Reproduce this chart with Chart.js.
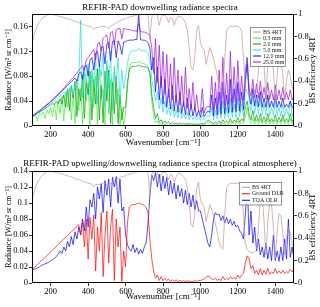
<!DOCTYPE html>
<html>
<head>
<meta charset="utf-8">
<script src="https://cdn.jsdelivr.net/npm/chart.js@4.4.0/dist/chart.umd.min.js"></script>
<style>
    body { margin: 0; background: #fff; }
    canvas { display: block; }
</style>
</head>
<body>
<canvas id="chart-downwelling" width="320" height="150"></canvas>
<canvas id="chart-tropical" width="320" height="157"></canvas>
<script>
// wavenumber grid [cm-1]
const wavenumber = [
    100, 110, 120, 130, 140, 150, 160, 170, 180, 190,
    200, 210, 220, 230, 240, 250, 260, 270, 280, 290,
    300, 310, 320, 330, 340, 350, 360, 370, 380, 390,
    400, 410, 420, 430, 440, 450, 460, 470, 480, 490,
    500, 510, 520, 530, 540, 550, 560, 570, 580, 590,
    600, 610, 620, 630, 640, 650, 660, 670, 680, 690,
    700, 710, 720, 730, 740, 750, 760, 770, 780, 790,
    800, 810, 820, 830, 840, 850, 860, 870, 880, 890,
    900, 910, 920, 930, 940, 950, 960, 970, 980, 990,
    1000, 1010, 1020, 1030, 1040, 1050, 1060, 1070, 1080, 1090,
    1100, 1110, 1120, 1130, 1140, 1150, 1160, 1170, 1180, 1190,
    1200, 1210, 1220, 1230, 1240, 1250, 1260, 1270, 1280, 1290,
    1300, 1310, 1320, 1330, 1340, 1350, 1360, 1370, 1380, 1390,
    1400, 1410, 1420, 1430, 1440, 1450, 1460, 1470, 1480, 1490,
    1500,
];

// BS efficiency 4RT (right axis, same curve in both panels)
const bsEfficiency = [
    .74, .81, .86, .90, .93, .95, .97, .98, .99, 1.0,
    1.0, 1.0, .99, .99, .98, .98, .97, .97, .96, .96,
    .95, .95, .94, .93, .93, .92, .92, .91, .90, .90,
    .89, .89, .88, .86, .88, .88, .88, .89, .89, .89,
    .88, .87, .89, .90, .91, .92, .93, .94, .95, .95,
    .96, .97, .97, .98, .98, .99, .99, 1.0, 1.0, 1.0,
    1.0, 1.0, .98, .78, .97, 1.0, 1.0, .99, .90, .97,
    .99, .99, .97, .92, .97, .96, .90, .95, .98, .98,
    .97, .95, .92, .85, .70, .52, .50, .62, .85, .90,
    .74, .70, .68, .55, .62, .70, .66, .60, .53, .45,
    .36, .32, .30, .60, .85, .88, .89, .89, .89, .89,
    .89, .88, .85, .60, .35, .30, .28, .27, .27, .28,
    .30, .50, .75, .78, .55, .25, .55, .72, .70, .50,
    .22, .45, .62, .60, .45, .25, .40, .50, .45, .35,
    .30,
];

// panel (a): downwelling radiance for different PWV
const pwv03 = [
    .016, .015, .017, .008, .020, .018, .022, .012, .026, .020,
    .030, .015, .035, .010, .042, .020, .048, .008, .055, .030,
    .062, .010, .050, .004, .075, .025, .060, .003, .085, .040,
    .070, .002, .092, .030, .080, .002, .097, .045, .060, .001,
    .099, .020, .075, .001, .096, .035, .060, .001, .030, .002,
    .020, .060, .095, .101, .102, .102, .102, .104, .102, .101,
    .100, .099, .096, .085, .040, .015, .005, .008, .002, .005,
    .001, .003, .001, .002, .001, .002, .001, .002, .001, .002,
    .001, .001, .001, .002, .001, .001, .001, .001, .001, .001,
    .001, .002, .002, .004, .006, .005, .003, .002, .003, .002,
    .004, .002, .005, .002, .004, .002, .006, .003, .005, .003,
    .008, .003, .006, .004, .015, .030, .010, .004, .012, .003,
    .010, .003, .012, .003, .008, .003, .012, .003, .008, .003,
    .010, .003, .008, .003, .012, .003, .008, .003, .012, .003,
    .006,
];
const pwv20 = [
    .016, .017, .019, .020, .022, .024, .026, .028, .030, .032,
    .034, .036, .035, .040, .036, .044, .035, .050, .030, .060,
    .025, .065, .045, .072, .015, .060, .040, .082, .012, .070,
    .050, .088, .010, .075, .035, .092, .010, .065, .005, .088,
    .040, .090, .004, .070, .020, .080, .004, .050, .010, .030,
    .030, .070, .090, .095, .096, .096, .096, .098, .096, .096,
    .095, .095, .093, .085, .050, .030, .012, .020, .006, .010,
    .004, .008, .004, .007, .003, .006, .003, .005, .003, .005,
    .003, .004, .003, .004, .003, .004, .003, .003, .003, .003,
    .003, .004, .004, .007, .009, .008, .006, .004, .006, .004,
    .008, .004, .010, .005, .008, .005, .012, .005, .010, .006,
    .014, .006, .012, .008, .030, .040, .020, .010, .025, .008,
    .018, .008, .020, .007, .015, .007, .020, .007, .012, .007,
    .018, .007, .014, .007, .018, .007, .012, .007, .020, .007,
    .012,
];
const pwv50 = [
    .016, .018, .019, .021, .023, .025, .027, .029, .031, .034,
    .036, .038, .041, .043, .046, .048, .051, .054, .050, .059,
    .055, .064, .050, .070, .060, .075, .170, .045, .095, .070,
    .100, .040, .085, .065, .110, .035, .095, .080, .118, .030,
    .105, .060, .120, .025, .090, .070, .110, .040, .090, .060,
    .080, .100, .115, .120, .121, .121, .121, .125, .121, .121,
    .121, .120, .117, .105, .075, .060, .040, .055, .028, .045,
    .022, .040, .019, .030, .016, .035, .014, .025, .013, .028,
    .012, .020, .011, .022, .010, .018, .010, .015, .009, .014,
    .009, .018, .010, .014, .017, .015, .030, .010, .025, .011,
    .030, .012, .040, .012, .030, .013, .045, .013, .035, .014,
    .045, .015, .035, .016, .060, .110, .045, .025, .050, .020,
    .040, .019, .045, .018, .035, .018, .045, .017, .030, .017,
    .040, .017, .030, .016, .035, .016, .028, .016, .040, .016,
    .025,
];
const pwv120 = [
    .016, .018, .020, .022, .024, .026, .029, .031, .034, .036,
    .039, .041, .044, .047, .050, .053, .056, .059, .062, .065,
    .068, .071, .074, .077, .072, .084, .087, .075, .094, .098,
    .080, .106, .110, .090, .117, .120, .095, .126, .128, .100,
    .132, .134, .105, .136, .137, .110, .137, .130, .115, .135,
    .136, .137, .138, .138, .138, .139, .139, .180, .139, .138,
    .138, .137, .134, .125, .090, .110, .055, .095, .042, .080,
    .035, .075, .030, .060, .027, .065, .024, .050, .022, .055,
    .020, .040, .018, .045, .017, .035, .016, .030, .015, .025,
    .014, .030, .015, .020, .024, .022, .050, .016, .045, .018,
    .055, .019, .070, .020, .050, .021, .075, .022, .060, .023,
    .070, .024, .055, .026, .075, .100, .050, .035, .060, .032,
    .050, .031, .055, .030, .045, .030, .050, .030, .040, .030,
    .050, .030, .040, .030, .045, .030, .035, .030, .040, .030,
    .032,
];
const pwv250 = [
    .016, .018, .020, .023, .025, .027, .030, .032, .035, .037,
    .040, .043, .046, .049, .052, .055, .058, .061, .064, .068,
    .071, .075, .078, .082, .085, .089, .093, .097, .090, .106,
    .110, .114, .119, .123, .106, .131, .135, .120, .141, .144,
    .146, .125, .150, .152, .130, .155, .156, .157, .140, .157,
    .156, .155, .155, .154, .153, .153, .152, .165, .152, .151,
    .151, .150, .148, .145, .125, .085, .140, .070, .130, .062,
    .120, .052, .115, .046, .100, .042, .110, .038, .090, .034,
    .080, .031, .095, .029, .060, .027, .070, .025, .050, .023,
    .022, .060, .021, .030, .032, .030, .080, .025, .070, .028,
    .090, .030, .110, .033, .085, .035, .120, .036, .095, .038,
    .105, .040, .080, .042, .090, .110, .060, .048, .075, .046,
    .068, .045, .072, .044, .062, .043, .070, .043, .058, .042,
    .066, .042, .058, .042, .062, .042, .054, .042, .058, .042,
    .048,
];

// panel (b): tropical atmosphere
const groundDLR = [
    .017, .019, .021, .023, .026, .028, .030, .032, .034, .037,
    .039, .041, .043, .046, .048, .050, .053, .055, .057, .059,
    .062, .064, .066, .068, .071, .073, .060, .077, .045, .080,
    .030, .082, .055, .085, .015, .070, .040, .088, .008, .060,
    .090, .025, .070, .092, .003, .080, .045, .070, .002, .040,
    .020, .075, .095, .097, .098, .098, .099, .100, .099, .098,
    .097, .094, .088, .055, .030, .015, .006, .010, .003, .008,
    .003, .006, .003, .005, .002, .004, .002, .004, .002, .003,
    .002, .003, .002, .003, .002, .002, .002, .003, .002, .003,
    .003, .004, .005, .007, .009, .008, .005, .004, .006, .003,
    .005, .003, .008, .004, .006, .004, .008, .005, .007, .005,
    .010, .006, .010, .012, .025, .034, .030, .018, .022, .012,
    .016, .010, .018, .010, .016, .011, .018, .011, .014, .012,
    .018, .012, .015, .012, .016, .012, .014, .013, .017, .014,
    .018,
];
const toaOLR = [
    .016, .017, .018, .019, .020, .022, .023, .024, .025, .026,
    .028, .029, .031, .033, .036, .040, .037, .045, .040, .052,
    .045, .058, .048, .064, .055, .070, .060, .080, .065, .095,
    .070, .104, .095, .112, .080, .120, .105, .124, .088, .128,
    .110, .130, .095, .132, .120, .133, .100, .130, .090, .095,
    .060, .048, .042, .040, .048, .038, .044, .036, .042, .037,
    .045, .050, .075, .110, .135, .128, .138, .120, .136, .115,
    .134, .118, .132, .110, .128, .112, .125, .105, .122, .108,
    .118, .100, .116, .098, .112, .095, .110, .092, .103, .090,
    .090, .080, .070, .060, .050, .045, .060, .080, .088, .085,
    .086, .078, .084, .075, .082, .074, .080, .072, .077, .070,
    .072, .065, .062, .055, .085, .125, .060, .090, .050, .070,
    .040, .055, .035, .045, .032, .050, .030, .045, .028, .060,
    .028, .040, .027, .045, .028, .055, .030, .080, .032, .045,
    .030,
];

// tick labels
const xTicks = [200, 400, 600, 800, 1000, 1200, 1400];
const yTicksA = [0, 0.04, 0.08, 0.12, 0.16];
const yTicksB = [0, 0.02, 0.04, 0.06, 0.08, 0.1, 0.12, 0.14];
const bsTicks = [0, 0.2, 0.4, 0.6, 0.8, 1];

const SERIF = "'Liberation Serif', 'DejaVu Serif', serif";
Chart.defaults.font.family = SERIF;
Chart.defaults.color = "#000";

const toPoints = (values) => values.map((v, i) => ({ x: wavenumber[i], y: v }));

const framePlugin = {
    id: "frame",
    afterDatasetsDraw(chart) {
        const { ctx, chartArea: a } = chart;
        ctx.save();
        ctx.strokeStyle = "#000";
        ctx.lineWidth = 1;
        ctx.strokeRect(a.left + 0.5, a.top + 0.5, a.right - a.left - 1, a.bottom - a.top - 1);
        ctx.restore();
    },
};

const boxLegend = {
    id: "boxLegend",
    afterDraw(chart, args, opts) {
        const ctx = chart.ctx;
        const sets = chart.data.datasets;
        const h = opts.rowHeight * sets.length + 3;
        ctx.save();
        ctx.fillStyle = "#fff";
        ctx.fillRect(opts.left, opts.top, opts.width, h);
        ctx.strokeStyle = "#666";
        ctx.lineWidth = 0.7;
        ctx.strokeRect(opts.left + 0.5, opts.top + 0.5, opts.width, h);
        ctx.font = `${opts.fontSize}px ${SERIF}`;
        ctx.textBaseline = "middle";
        sets.forEach((ds, i) => {
            const y = opts.top + 2 + opts.rowHeight * (i + 0.5);
            ctx.strokeStyle = ds.borderColor;
            ctx.lineWidth = 1;
            ctx.beginPath();
            ctx.moveTo(opts.left + 3, y);
            ctx.lineTo(opts.left + 11, y);
            ctx.stroke();
            ctx.fillStyle = "#222";
            ctx.fillText(ds.label, opts.left + 13, y);
        });
        ctx.restore();
    },
};

const rightTitle = {
    id: "rightTitle",
    afterDraw(chart, args, opts) {
        const { ctx, chartArea: a } = chart;
        ctx.save();
        ctx.translate(opts.x, (a.top + a.bottom) / 2);
        ctx.rotate(-Math.PI / 2);
        ctx.font = `9px ${SERIF}`;
        ctx.fillStyle = "#000";
        ctx.textAlign = "center";
        ctx.textBaseline = "middle";
        ctx.fillText(opts.text, 0, 0);
        ctx.restore();
    },
};

function lineSet(label, values, color, order, axis = "y") {
    return {
        label,
        data: toPoints(values),
        borderColor: color,
        borderWidth: 0.7,
        pointRadius: 0,
        tension: 0,
        fill: false,
        order,
        yAxisID: axis,
    };
}

function panelOptions({ title, titlePad, yMax, yTicks, xTitlePad, legend }) {
    const tickGrid = { drawOnChartArea: false, tickLength: 3, color: "#000", lineWidth: 0.8 };
    return {
        responsive: false,
        animation: false,
        events: [],
        devicePixelRatio: 1,
        layout: { padding: 0 },
        plugins: {
            legend: { display: false },
            tooltip: { enabled: false },
            title: {
                display: true,
                text: title,
                font: { size: 9, weight: "normal" },
                padding: titlePad,
            },
            boxLegend: legend,
            rightTitle: { x: 313, text: "BS efficiency 4RT" },
        },
        scales: {
            x: {
                type: "linear",
                min: 100,
                max: 1500,
                afterFit: (s) => { s.height = 24; },
                afterBuildTicks: (s) => { s.ticks = xTicks.map((v) => ({ value: v })); },
                ticks: { autoSkip: false, maxRotation: 0, padding: 1, font: { size: 8.5 }, callback: (v) => String(v) },
                grid: tickGrid,
                border: { display: false },
                title: {
                    display: true,
                    text: "Wavenumber [cm⁻¹]",
                    font: { size: 9 },
                    padding: { top: 0, bottom: xTitlePad },
                },
            },
            y: {
                min: 0,
                max: yMax,
                afterFit: (s) => { s.width = 32; },
                afterBuildTicks: (s) => { s.ticks = yTicks.map((v) => ({ value: v })); },
                ticks: { padding: 1, font: { size: 8.5 }, callback: (v) => String(+v.toFixed(2)) },
                grid: tickGrid,
                border: { display: false },
                title: {
                    display: true,
                    text: "Radiance [W/m² sr cm⁻¹]",
                    font: { size: 8 },
                    padding: { top: 4, bottom: 0 },
                },
            },
            y1: {
                position: "right",
                min: 0,
                max: 1,
                afterFit: (s) => { s.width = 26; },
                afterBuildTicks: (s) => { s.ticks = bsTicks.map((v) => ({ value: v })); },
                ticks: { padding: 1, font: { size: 8.5 }, callback: (v) => String(+v.toFixed(1)) },
                grid: tickGrid,
                border: { display: false },
            },
        },
    };
}

// (a) downwelling spectra
new Chart(document.getElementById("chart-downwelling"), {
    type: "line",
    data: {
        datasets: [
            lineSet("BS 4RT", bsEfficiency, "#c49494", 0, "y1"),
            lineSet("0.3 mm", pwv03, "#33ee33", 5),
            lineSet("2.0 mm", pwv20, "#009900", 4),
            lineSet("5.0 mm", pwv50, "#22dddd", 3),
            lineSet("12.0 mm", pwv120, "#0000ff", 2),
            lineSet("25.0 mm", pwv250, "#9a10d8", 1),
        ],
    },
    options: panelOptions({
        title: "REFIR-PAD downwelling radiance spectra",
        titlePad: { top: 2, bottom: 1.2 },
        yMax: 0.18,
        yTicks: yTicksA,
        xTitlePad: 1.6,
        legend: { left: 250, top: 27, width: 35, rowHeight: 6, fontSize: 6 },
    }),
    plugins: [framePlugin, boxLegend, rightTitle],
});

// (b) upwelling / downwelling, tropical atmosphere
new Chart(document.getElementById("chart-tropical"), {
    type: "line",
    data: {
        datasets: [
            lineSet("BS 4RT", bsEfficiency, "#c49494", 0, "y1"),
            lineSet("Ground DLR", groundDLR, "#ff0000", 1),
            lineSet("TOA OLR", toaOLR, "#0000ff", 2),
        ],
    },
    options: panelOptions({
        title: "REFIR-PAD upwelling/downwelling radiance spectra (tropical atmosphere)",
        titlePad: { top: 8.6, bottom: 1.6 },
        yMax: 0.14,
        yTicks: yTicksB,
        xTitlePad: 4.6,
        legend: { left: 239, top: 32, width: 42, rowHeight: 6.5, fontSize: 6 },
    }),
    plugins: [framePlugin, boxLegend, rightTitle],
});
</script>
</body>
</html>
